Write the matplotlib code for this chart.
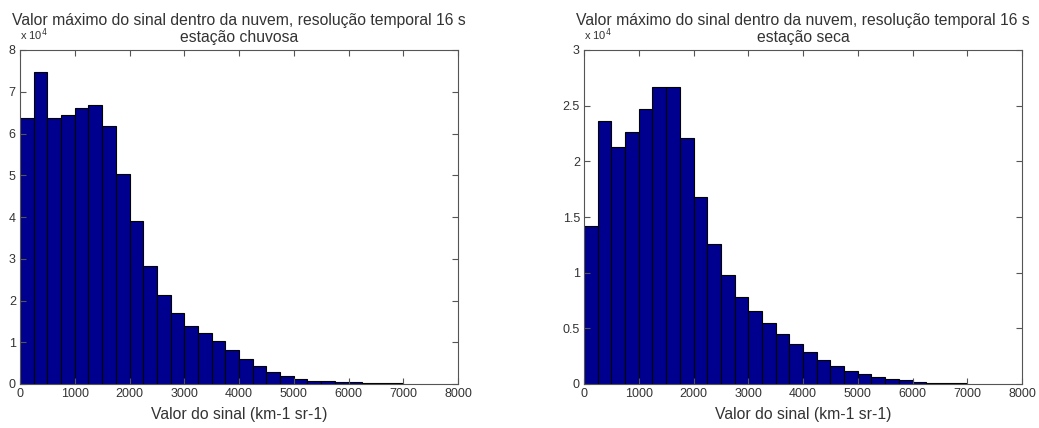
import matplotlib.pyplot as plt
import numpy as np

plt.rcParams['font.family'] = ['Liberation Sans', 'DejaVu Sans']

bin_edges = np.arange(0, 7001, 250)
chuvosa = [6.36, 7.48, 6.36, 6.44, 6.62, 6.68, 6.18, 5.04, 3.90, 2.83, 2.13, 1.69,
           1.40, 1.23, 1.03, 0.81, 0.59, 0.43, 0.28, 0.19, 0.13, 0.08, 0.06, 0.05,
           0.04, 0.02, 0.02, 0.02]
seca = [1.42, 2.36, 2.13, 2.26, 2.47, 2.67, 2.67, 2.21, 1.68, 1.26, 0.98, 0.78,
        0.66, 0.545, 0.446, 0.356, 0.284, 0.213, 0.159, 0.113, 0.087, 0.066, 0.048,
        0.039, 0.022, 0.013, 0.013, 0.013]
chuvosa = np.array(chuvosa) * 1e4
seca = np.array(seca) * 1e4

title_top = 'Valor máximo do sinal dentro da nuvem, resolução temporal 16 s'
subtitles = ['estação chuvosa', 'estação seca']
ylims = [8, 3]
ysteps = [1, 0.5]
ylabels = [['0', '1', '2', '3', '4', '5', '6', '7', '8'],
           ['0', '0.5', '1', '1.5', '2', '2.5', '3']]

W, H = 1039, 428
fig = plt.figure(figsize=(W / 100, H / 100), dpi=100)
boxes = [(20, 50, 458, 384), (584, 50, 1022, 384)]
txt = '#333333'

for i, counts in enumerate([chuvosa, seca]):
    x0, y0, x1, y1 = boxes[i]
    ax = fig.add_axes([x0 / W, 1 - y1 / H, (x1 - x0) / W, (y1 - y0) / H])
    ax.bar(bin_edges[:-1], counts, width=250, align='edge', color='#00008f',
           edgecolor='black', linewidth=0.8)
    ax.set_xlim(0, 8000)
    ax.set_ylim(0, ylims[i] * 1e4)
    ax.set_xticks(np.arange(0, 8001, 1000))
    ax.set_yticks(np.arange(0, ylims[i] + 1e-9, ysteps[i]) * 1e4)
    ax.set_yticklabels(ylabels[i])
    ax.tick_params(direction='in', length=4, top=True, right=True, labelsize=9,
                   color='#555555', labelcolor=txt, pad=3)
    for s in ax.spines.values():
        s.set_color('#555555')
        s.set_linewidth(0.8)
    ax.set_xlabel('Valor do sinal (km-1 sr-1)', fontsize=11.3, color=txt, labelpad=5)
    cx = (x0 + x1) / 2 / W
    fig.text(cx, 1 - 25.5 / H, title_top, fontsize=11.3, color=txt,
             ha='center', va='baseline')
    fig.text(cx, 1 - 42 / H, subtitles[i], fontsize=11.3, color=txt,
             ha='center', va='baseline')
    fig.text(x0 / W, 1 - 40 / H, r'x 10$^4$', fontsize=8, color=txt,
             ha='left', va='baseline')

fig.savefig('out.png', dpi=100)
